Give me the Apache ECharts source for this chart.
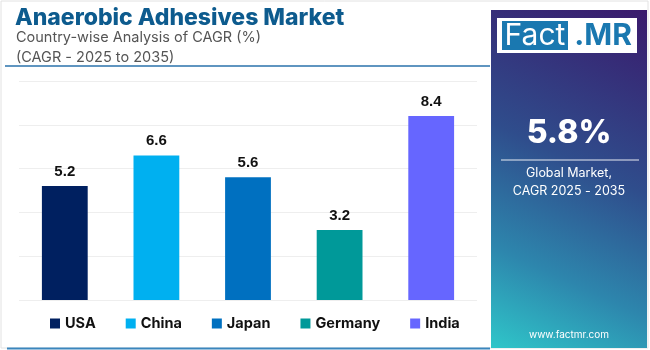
<!DOCTYPE html>
<html><head><meta charset="utf-8">
<script src="https://cdn.jsdelivr.net/npm/echarts@6/dist/echarts.min.js"></script>
<style>html,body{margin:0;padding:0;background:#fff}#c{width:650px;height:350px}</style>
</head><body><div id="c"></div>
<script>
const categories = ["USA", "China", "Japan", "Germany", "India"];
const values = [5.2, 6.6, 5.6, 3.2, 8.4];
const colors = ["#002060", "#00b0f0", "#0070c0", "#009999", "#6666ff"];
const yTicks = [0, 2, 4, 6, 8, 10];
const globalCagr = "5.8%";

const chart = echarts.init(document.getElementById('c'), null, {renderer: 'canvas'});
const series = categories.map((c, i) => ({
  name: c, type: 'bar', stack: 'a', barWidth: '50%',
  data: categories.map((_, j) => j === i ? values[i] : null),
  itemStyle: {color: colors[i]},
  label: {show: true, position: 'top', distance: 7, color: '#111', fontFamily: 'Liberation Sans', fontWeight: 'bold', fontSize: 15,
    formatter: p => p.value.toFixed(1)}
}));
chart.setOption({
  animation: false,
  title: [
    {text: 'Anaerobic Adhesives Market', left: 10, top: 2, textStyle: {fontFamily: 'Inter', fontWeight: 800, fontSize: 23, color: '#0d5b8e'}},
    {text: 'Country-wise Analysis of CAGR (%)\n(CAGR - 2025 to 2035)', left: 11, top: 23, textStyle: {fontFamily: 'Inter', fontWeight: 400, fontSize: 14.5, lineHeight: 20, color: '#555'}}
  ],
  grid: {left: 19, right: 173, top: 81, bottom: 50},
  xAxis: {type: 'category', data: categories, axisLine: {show: false}, axisTick: {show: false}, axisLabel: {show: false}},
  yAxis: {type: 'value', min: yTicks[0], max: yTicks[yTicks.length - 1], interval: 2, axisLabel: {show: false},
    splitLine: {lineStyle: {color: '#eeeeee'}}},
  legend: {bottom: 14, left: 45, itemGap: 30, itemWidth: 10, itemHeight: 10, icon: 'rect',
    textStyle: {fontFamily: 'Inter', fontWeight: 'bold', fontSize: 14.5, color: '#111'}, data: categories},
  series: series,
  graphic: [
    {type: 'rect', shape: {x: 1, y: 1, width: 647, height: 347}, style: {fill: 'none', stroke: '#e2e2e2', lineWidth: 1}, z: -1},
    {type: 'line', shape: {x1: 5, y1: 66, x2: 490, y2: 66}, style: {stroke: '#2a72ab', lineWidth: 1.5}},
    {type: 'line', shape: {x1: 7, y1: 348.5, x2: 490, y2: 348.5}, style: {stroke: '#3a86bd', lineWidth: 2}},
    {type: 'rect', shape: {x: 491, y: 10, width: 156, height: 338},
      style: {fill: new echarts.graphic.LinearGradient(1, 0, 0, 1, [
        {offset: 0, color: '#3a1a6c'}, {offset: 0.45, color: '#2f4d8c'}, {offset: 0.75, color: '#2d86ad'}, {offset: 1, color: '#2fc6c9'}])}},
    {type: 'rect', shape: {x: 497, y: 18, width: 140, height: 35}, style: {fill: '#ffffff'}},
    {type: 'rect', shape: {x: 502, y: 21, width: 66, height: 29}, style: {fill: '#1a78b0'}},
    {type: 'text', x: 535, y: 36, style: {text: 'Fact', fill: '#ffffff', font: '400 30px Inter', align: 'center', verticalAlign: 'middle'}},
    {type: 'text', x: 603, y: 36, style: {text: '.MR', fill: '#1a78b0', font: '700 30px Inter', align: 'center', verticalAlign: 'middle'}},
    {type: 'text', x: 569, y: 133, style: {text: globalCagr, fill: '#ffffff', font: '800 32px Inter', align: 'center', verticalAlign: 'middle'}},
    {type: 'line', shape: {x1: 501, y1: 160, x2: 639, y2: 160}, style: {stroke: 'rgba(255,255,255,0.6)', lineWidth: 1.5}},
    {type: 'text', x: 569, y: 182, style: {text: 'Global Market,\nCAGR 2025 - 2035', fill: '#ffffff', font: '400 12.5px Inter', lineHeight: 18, align: 'center', verticalAlign: 'middle'}},
    {type: 'text', x: 569, y: 335, style: {text: 'www.factmr.com', fill: '#ffffff', font: '400 10px Inter', align: 'center', verticalAlign: 'middle'}}
  ]
});
</script></body></html>
